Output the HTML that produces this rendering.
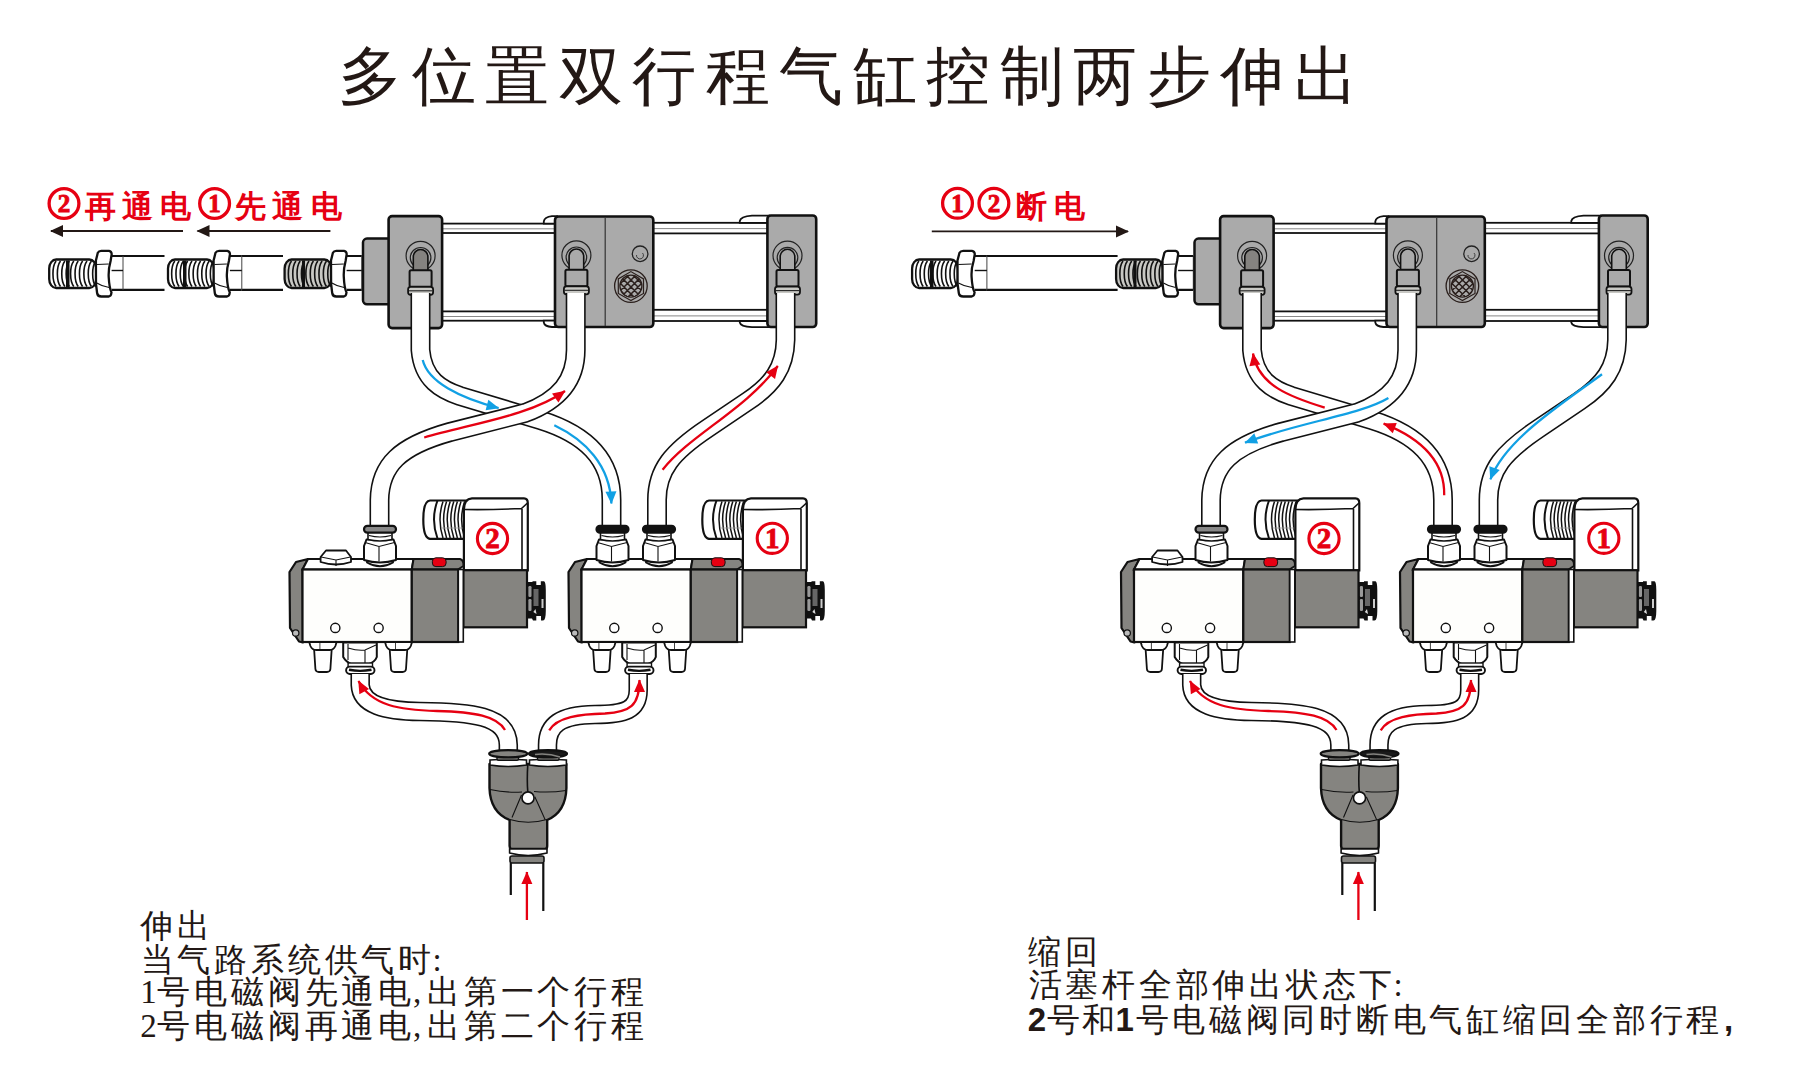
<!DOCTYPE html><html><head><meta charset="utf-8"><style>html,body{margin:0;padding:0;background:#fff;overflow:hidden}svg{display:block}</style></head><body>
<svg width="1820" height="1085" viewBox="0 0 1820 1085">
<defs>
<marker id="mr" markerUnits="userSpaceOnUse" markerWidth="16" markerHeight="14" refX="13" refY="7" orient="auto" viewBox="0 0 16 14"><path d="M1,1.5 L13.5,7 L1,12.5 Z" fill="#e60012"/></marker>
<marker id="mb" markerUnits="userSpaceOnUse" markerWidth="16" markerHeight="14" refX="13" refY="7" orient="auto" viewBox="0 0 16 14"><path d="M1,1.5 L13.5,7 L1,12.5 Z" fill="#11a0e4"/></marker>
<marker id="mk" markerUnits="userSpaceOnUse" markerWidth="16" markerHeight="14" refX="13" refY="7" orient="auto" viewBox="0 0 16 14"><path d="M1,1 L14,7 L1,13 Z" fill="#231815"/></marker>
<g id="machine"><rect x="346.6" y="256" width="15.2" height="33.8" fill="#fff"/>
<path d="M346.6,256 H361.8 M346.6,289.8 H361.8" stroke="#111" stroke-width="2.2"/>
<path d="M361.8,256 V289.8" stroke="#444" stroke-width="1"/>
<path d="M346.6,270.5 H361.8" stroke="#111" stroke-width="1.4"/>
<rect x="284.6" y="259.5" width="46.8" height="28.5" rx="7" ry="9" fill="#c8c8c4" stroke="#111" stroke-width="2.3"/>
<rect x="302" y="260.5" width="3" height="26.5" fill="#111"/>
<path d="M291.5,261 C287.3,266.5 287.3,281 291.5,286.5" fill="none" stroke="#111" stroke-width="1.6"/>
<path d="M295.9,261 C291.7,266.5 291.7,281 295.9,286.5" fill="none" stroke="#111" stroke-width="1.6"/>
<path d="M300.2,261 C296,266.5 296,281 300.2,286.5" fill="none" stroke="#111" stroke-width="1.6"/>
<path d="M304.6,261 C300.4,266.5 300.4,281 304.6,286.5" fill="none" stroke="#111" stroke-width="1.6"/>
<path d="M309,261 C304.8,266.5 304.8,281 309,286.5" fill="none" stroke="#111" stroke-width="1.6"/>
<path d="M313.4,261 C309.2,266.5 309.2,281 313.4,286.5" fill="none" stroke="#111" stroke-width="1.6"/>
<path d="M317.8,261 C313.6,266.5 313.6,281 317.8,286.5" fill="none" stroke="#111" stroke-width="1.6"/>
<path d="M322.1,261 C317.9,266.5 317.9,281 322.1,286.5" fill="none" stroke="#111" stroke-width="1.6"/>
<path d="M326.5,261 C322.3,266.5 322.3,281 326.5,286.5" fill="none" stroke="#111" stroke-width="1.6"/>
<path d="M330.9,261 C326.7,266.5 326.7,281 330.9,286.5" fill="none" stroke="#111" stroke-width="1.6"/>
<path d="M331,260.5 L332.9,252.8 Q333.9,250.8 336.3,250.8 H344.1 Q346.4,251.2 346.7,254 L345.6,261 Q343.4,269 343.8,277 Q344.3,288 346.5,292.5 Q346.1,296.3 343.7,296.5 H336.3 Q332.6,296.5 332.2,293 L331.1,284 Z" fill="#fff" stroke="#111" stroke-width="2.3" stroke-linejoin="round"/>
<path d="M331.9,264.5 L343.8,264" stroke="#111" stroke-width="1.2"/>
<path d="M331.9,283 Q337.3,286.5 344.1,287.5" fill="none" stroke="#111" stroke-width="1.1"/>
<rect x="363" y="238.6" width="30" height="65.7" rx="4" fill="#aaaaaa" stroke="#111" stroke-width="2.5"/>
<rect x="440" y="223.6" width="117" height="9.4" fill="#fff" stroke="#111" stroke-width="1.8"/><path d="M440,228.8 H557" stroke="#888" stroke-width="1"/>
<rect x="440" y="311.4" width="117" height="9.3" fill="#fff" stroke="#111" stroke-width="1.8"/><path d="M440,316.5 H557" stroke="#888" stroke-width="1"/>
<rect x="651" y="222.8" width="119" height="10.6" fill="#fff" stroke="#111" stroke-width="1.8"/><path d="M651,228.6 H770" stroke="#888" stroke-width="1"/>
<rect x="651" y="309.8" width="119" height="11.2" fill="#fff" stroke="#111" stroke-width="1.8"/><path d="M651,315.9 H770" stroke="#888" stroke-width="1"/>
<path d="M557,216.2 H552 Q544.5,217 543.8,221.5 V223.6 H557 Z" fill="#fff" stroke="#111" stroke-width="1.8"/>
<path d="M557,327 H552 Q544.5,326.5 543.8,322.5 V320.7 H557 Z" fill="#fff" stroke="#111" stroke-width="1.8"/>
<path d="M769,215.6 H752 Q740.5,216.5 739.8,221 V222.8 H769 Z" fill="#fff" stroke="#111" stroke-width="1.8"/>
<path d="M769,327.2 H752 Q740.5,326.5 739.8,322.5 V321 H769 Z" fill="#fff" stroke="#111" stroke-width="1.8"/>
<rect x="388.6" y="216.1" width="53.5" height="112" rx="3.5" fill="#aaaaaa" stroke="#111" stroke-width="2.6"/>
<rect x="555" y="216.5" width="98.3" height="110.5" rx="3.5" fill="#aaaaaa" stroke="#111" stroke-width="2.6"/>
<path d="M605.2,218 V326" stroke="#333" stroke-width="1.2"/>
<rect x="767.4" y="215.5" width="48.8" height="111.5" rx="3.5" fill="#aaaaaa" stroke="#111" stroke-width="2.6"/>
<circle cx="640.1" cy="253.8" r="7.8" fill="#aaaaaa" stroke="#222" stroke-width="1.3"/>
<path d="M636.5,255 a3.5,3.5 0 1 0 6,-2" fill="none" stroke="#333" stroke-width="0.9"/>
<circle cx="630.9" cy="286.1" r="16.3" fill="#aaaaaa" stroke="#2a1f1c" stroke-width="1.3"/>
<polygon points="630.9,300.6 618.3,293.4 618.3,278.9 630.9,271.6 643.5,278.9 643.5,293.4" fill="none" stroke="#2a1f1c" stroke-width="1.2"/>
<circle cx="630.9" cy="286.1" r="11" fill="#aaaaaa" stroke="#2a1f1c" stroke-width="1.3"/>
<clipPath id="gc"><circle cx="630.9" cy="286.1" r="11"/></clipPath>
<path d="M591,275 L615,299 M615,275 L591,299 M598,275 L622,299 M622,275 L598,299 M605,275 L629,299 M629,275 L605,299 M612,275 L636,299 M636,275 L612,299 M619,275 L643,299 M643,275 L619,299 M626,275 L650,299 M650,275 L626,299 M633,275 L657,299 M657,275 L633,299 M640,275 L664,299 M664,275 L640,299 M647,275 L671,299 M671,275 L647,299" stroke="#2a1f1c" stroke-width="1.5" clip-path="url(#gc)"/>
<circle cx="420.6" cy="255.8" r="14.5" fill="none" stroke="#222" stroke-width="1.2"/>
<circle cx="420.6" cy="257.8" r="10.3" fill="none" stroke="#222" stroke-width="1.2"/>
<path d="M413.3,270.8 V256.8 a7.3,7.3 0 0 1 14.6,0 V270.8 Z" fill="#858380" stroke="#111" stroke-width="1.6"/>
<rect x="409.6" y="270.3" width="22" height="16.5" rx="1.5" fill="#aaaaaa" stroke="#111" stroke-width="2"/>
<rect x="408.1" y="286.8" width="25" height="8" rx="2.5" fill="#c8c8c4" stroke="#111" stroke-width="1.8"/>
<path d="M408.6,290.8 H432.6" stroke="#222" stroke-width="1.1"/>
<circle cx="576.4" cy="255.3" r="14.5" fill="none" stroke="#222" stroke-width="1.2"/>
<circle cx="576.4" cy="257.3" r="10.3" fill="none" stroke="#222" stroke-width="1.2"/>
<path d="M569.1,270.3 V256.3 a7.3,7.3 0 0 1 14.6,0 V270.3 Z" fill="#aaaaaa" stroke="#111" stroke-width="1.6"/>
<rect x="565.4" y="269.8" width="22" height="16.5" rx="1.5" fill="#aaaaaa" stroke="#111" stroke-width="2"/>
<rect x="563.9" y="286.3" width="25" height="8" rx="2.5" fill="#c8c8c4" stroke="#111" stroke-width="1.8"/>
<path d="M564.4,290.3 H588.4" stroke="#222" stroke-width="1.1"/>
<circle cx="787.5" cy="255.6" r="14.5" fill="none" stroke="#222" stroke-width="1.2"/>
<circle cx="787.5" cy="257.6" r="10.3" fill="none" stroke="#222" stroke-width="1.2"/>
<path d="M780.2,270.6 V256.6 a7.3,7.3 0 0 1 14.6,0 V270.6 Z" fill="#aaaaaa" stroke="#111" stroke-width="1.6"/>
<rect x="776.5" y="270.1" width="22" height="16.5" rx="1.5" fill="#aaaaaa" stroke="#111" stroke-width="2"/>
<rect x="775" y="286.6" width="25" height="8" rx="2.5" fill="#c8c8c4" stroke="#111" stroke-width="1.8"/>
<path d="M775.5,290.6 H799.5" stroke="#222" stroke-width="1.1"/>
<path d="M420.5,293 V350 C423,380 442,390 460,396 L540,420 C585,434 611.5,458 611.5,500 V532" fill="none" stroke="#111" stroke-width="20"/><path d="M420.5,293 V350 C423,380 442,390 460,396 L540,420 C585,434 611.5,458 611.5,500 V532" fill="none" stroke="#fff" stroke-width="16.8"/>
<path d="M575.7,293 V350 C575.7,380 560,400 525,413 L450,432 C400,446 380,465 379.5,500 V532" fill="none" stroke="#111" stroke-width="20"/><path d="M575.7,293 V350 C575.7,380 560,400 525,413 L450,432 C400,446 380,465 379.5,500 V532" fill="none" stroke="#fff" stroke-width="16.8"/>
<path d="M785.5,293 V340 C785,368 772,385 748,401 L708,428 C672,452 657,470 657,500 V532" fill="none" stroke="#111" stroke-width="20"/><path d="M785.5,293 V340 C785,368 772,385 748,401 L708,428 C672,452 657,470 657,500 V532" fill="none" stroke="#fff" stroke-width="16.8"/>
<path d="M526,582 H532.5 V581.3 H536.3 V585 H540.8 V581.3 H544 Q545.8,582 545.8,590 V611 Q545.8,620.5 543,620.5 H541 V616 H536.3 V620.5 H533 L532,618.5 H526 Z" fill="#111"/>
<rect x="528.3" y="586" width="3.2" height="11" rx="1.2" fill="#999"/><rect x="528.3" y="599" width="3.2" height="12" rx="1.2" fill="#999"/><rect x="533.5" y="589" width="5" height="17" fill="#666"/><rect x="541.5" y="599" width="2" height="9" fill="#ccc"/><path d="M533.3,612 L535.5,609 L536.5,614 Z" fill="#ddd"/>
<path d="M430,500.5 H466 V538.9 H430 Q423.3,538 423.3,519.5 Q423.3,501 430,500.5 Z" fill="#fff" stroke="#111" stroke-width="2.2"/>
<path d="M437.5,500.5 Q430.5,519.5 437.5,538.5" fill="none" stroke="#111" stroke-width="2"/>
<path d="M443,501.5 Q437,519.5 443,538" fill="none" stroke="#111" stroke-width="1.5"/>
<path d="M446.6,501.5 Q440.6,519.5 446.6,538" fill="none" stroke="#111" stroke-width="1.5"/>
<path d="M450.2,501.5 Q444.2,519.5 450.2,538" fill="none" stroke="#111" stroke-width="1.5"/>
<path d="M453.8,501.5 Q447.8,519.5 453.8,538" fill="none" stroke="#111" stroke-width="1.5"/>
<path d="M457.4,501.5 Q451.4,519.5 457.4,538" fill="none" stroke="#111" stroke-width="1.5"/>
<path d="M461,501.5 Q455,519.5 461,538" fill="none" stroke="#111" stroke-width="1.5"/>
<path d="M464.6,501.5 Q458.6,519.5 464.6,538" fill="none" stroke="#111" stroke-width="1.5"/>
<path d="M441,528 H465" stroke="#999" stroke-width="0.8"/>
<path d="M463.9,570.5 V509.5 Q463.9,499 472,498.3 H524 Q527.8,498.5 527.8,503 V570.5 Z" fill="#fff" stroke="#111" stroke-width="2.2"/>
<path d="M464,509.5 Q490,510 521.5,508.5 L527.5,503 M522,509 V570" fill="none" stroke="#111" stroke-width="1.6"/>
<rect x="463.4" y="570.2" width="63.6" height="57.1" fill="#858480" stroke="#111" stroke-width="2.2"/>
<path d="M289.5,572 L296,562 L308,559 L302.5,569.5 L303,642.5 L299,641.5 L290,628 Z" fill="#858480" stroke="#111" stroke-width="2.2" stroke-linejoin="round"/>
<circle cx="295.7" cy="633" r="3.2" fill="#bbb" stroke="#111" stroke-width="1.2"/>
<path d="M302.5,569.5 L308,559 H413.5 L411.8,569.5 Z" fill="#fff" stroke="#111" stroke-width="2"/>
<rect x="302.5" y="569.5" width="109.3" height="72.5" fill="#fefefc" stroke="#111" stroke-width="2.2"/>
<path d="M411.8,569.5 L413.5,559 H460 Q464,560 463.4,566 L458,569.5 Z" fill="#858480" stroke="#111" stroke-width="2"/>
<rect x="411.8" y="569.5" width="46.5" height="72.5" fill="#858480" stroke="#111" stroke-width="2.2"/>
<rect x="458.3" y="569.5" width="5" height="72.5" fill="#fff" stroke="#111" stroke-width="1.6"/>
<rect x="432.4" y="557.8" width="13.7" height="8.8" rx="3.5" fill="#e60012" stroke="#111" stroke-width="1"/>
<circle cx="335.3" cy="627.9" r="4.6" fill="#fff" stroke="#111" stroke-width="1.4"/>
<circle cx="378.6" cy="627.9" r="4.6" fill="#fff" stroke="#111" stroke-width="1.4"/>
<path d="M314.1,649 L315.4,669 Q315.7,672 318.9,672 H326.9 Q330.1,672 330.4,669 L331.7,649 Z" fill="#fff" stroke="#111" stroke-width="1.8" stroke-linejoin="round"/>
<path d="M309.2,642 L310.4,646 Q312.2,650 316.2,650 H329.6 Q333.6,650 335.4,646 L336.6,642 Z" fill="#fff" stroke="#111" stroke-width="1.8" stroke-linejoin="round"/>
<path d="M319.9,643 V649" stroke="#111" stroke-width="0.8"/>
<path d="M389.7,649 L391,669 Q391.3,672 394.5,672 H402.5 Q405.7,672 406,669 L407.3,649 Z" fill="#fff" stroke="#111" stroke-width="1.8" stroke-linejoin="round"/>
<path d="M385,642 L386.2,646 Q388,650 392,650 H405 Q409,650 410.8,646 L412,642 Z" fill="#fff" stroke="#111" stroke-width="1.8" stroke-linejoin="round"/>
<path d="M395.5,643 V649" stroke="#111" stroke-width="0.8"/>
<path d="M343.2,642.5 V657 Q346,662 352,664.5 Q360,666 368,664.5 Q375,662 376.8,657 V642.5 Z" fill="#fff" stroke="#111" stroke-width="2" stroke-linejoin="round"/>
<path d="M348,644 V660 M348,648 Q358,651 365,650 L376,645 M365,650 V663" fill="none" stroke="#111" stroke-width="1.1"/>
<rect x="348.1" y="663" width="24.4" height="4.5" fill="#fff" stroke="#111" stroke-width="1.4"/>
<rect x="346.1" y="666.6" width="28.4" height="7.4" rx="3.7" fill="#fff" stroke="#111" stroke-width="1.9"/>
<path d="M349,669.8 Q360,672 371.5,669.8" fill="none" stroke="#111" stroke-width="2.4"/>
<path d="M367,559 V562.5 Q380,570 393,562.5 V559 Z" fill="#fff" stroke="#111" stroke-width="1.8"/>
<path d="M364,560 V546 L366.5,539.5 H393.5 L396,546 V560 Q380,565 364,560 Z" fill="#fff" stroke="#111" stroke-width="2" stroke-linejoin="round"/>
<path d="M365,542.5 L379,546.5 L394.5,542.5 M379,546.5 V561.5" fill="none" stroke="#111" stroke-width="1.1"/>
<path d="M368,532 V539.5 Q380,542.5 392,539.5 V532 Z" fill="#fff" stroke="#111" stroke-width="1.6"/>
<path d="M369,535.5 Q380,538.5 391,535.5" fill="none" stroke="#111" stroke-width="1.1"/>
<rect x="364" y="525.8" width="32" height="6.8" rx="3.4" fill="#888" stroke="#111" stroke-width="2.2"/>
<path d="M320.6,557 L326,550.5 H346 L351,557 V562 Q336,567 320.6,562 Z" fill="#fff" stroke="#111" stroke-width="1.8" stroke-linejoin="round"/>
<path d="M321,557 L336,560 L350.5,557 M336,560 V566" fill="none" stroke="#111" stroke-width="1.1"/>
<path d="M805,582 H811.5 V581.3 H815.3 V585 H819.8 V581.3 H823 Q824.8,582 824.8,590 V611 Q824.8,620.5 822,620.5 H820 V616 H815.3 V620.5 H812 L811,618.5 H805 Z" fill="#111"/>
<rect x="807.3" y="586" width="3.2" height="11" rx="1.2" fill="#999"/><rect x="807.3" y="599" width="3.2" height="12" rx="1.2" fill="#999"/><rect x="812.5" y="589" width="5" height="17" fill="#666"/><rect x="820.5" y="599" width="2" height="9" fill="#ccc"/><path d="M812.3,612 L814.5,609 L815.5,614 Z" fill="#ddd"/>
<path d="M709,500.5 H745 V538.9 H709 Q702.3,538 702.3,519.5 Q702.3,501 709,500.5 Z" fill="#fff" stroke="#111" stroke-width="2.2"/>
<path d="M716.5,500.5 Q709.5,519.5 716.5,538.5" fill="none" stroke="#111" stroke-width="2"/>
<path d="M722,501.5 Q716,519.5 722,538" fill="none" stroke="#111" stroke-width="1.5"/>
<path d="M725.6,501.5 Q719.6,519.5 725.6,538" fill="none" stroke="#111" stroke-width="1.5"/>
<path d="M729.2,501.5 Q723.2,519.5 729.2,538" fill="none" stroke="#111" stroke-width="1.5"/>
<path d="M732.8,501.5 Q726.8,519.5 732.8,538" fill="none" stroke="#111" stroke-width="1.5"/>
<path d="M736.4,501.5 Q730.4,519.5 736.4,538" fill="none" stroke="#111" stroke-width="1.5"/>
<path d="M740,501.5 Q734,519.5 740,538" fill="none" stroke="#111" stroke-width="1.5"/>
<path d="M743.6,501.5 Q737.6,519.5 743.6,538" fill="none" stroke="#111" stroke-width="1.5"/>
<path d="M720,528 H744" stroke="#999" stroke-width="0.8"/>
<path d="M742.9,570.5 V509.5 Q742.9,499 751,498.3 H803 Q806.8,498.5 806.8,503 V570.5 Z" fill="#fff" stroke="#111" stroke-width="2.2"/>
<path d="M743,509.5 Q769,510 800.5,508.5 L806.5,503 M801,509 V570" fill="none" stroke="#111" stroke-width="1.6"/>
<rect x="742.4" y="570.2" width="63.6" height="57.1" fill="#858480" stroke="#111" stroke-width="2.2"/>
<path d="M568.5,572 L575,562 L587,559 L581.5,569.5 L582,642.5 L578,641.5 L569,628 Z" fill="#858480" stroke="#111" stroke-width="2.2" stroke-linejoin="round"/>
<circle cx="574.7" cy="633" r="3.2" fill="#bbb" stroke="#111" stroke-width="1.2"/>
<path d="M581.5,569.5 L587,559 H692.5 L690.8,569.5 Z" fill="#fff" stroke="#111" stroke-width="2"/>
<rect x="581.5" y="569.5" width="109.3" height="72.5" fill="#fefefc" stroke="#111" stroke-width="2.2"/>
<path d="M690.8,569.5 L692.5,559 H739 Q743,560 742.4,566 L737,569.5 Z" fill="#858480" stroke="#111" stroke-width="2"/>
<rect x="690.8" y="569.5" width="46.5" height="72.5" fill="#858480" stroke="#111" stroke-width="2.2"/>
<rect x="737.3" y="569.5" width="5" height="72.5" fill="#fff" stroke="#111" stroke-width="1.6"/>
<rect x="711.4" y="557.8" width="13.7" height="8.8" rx="3.5" fill="#e60012" stroke="#111" stroke-width="1"/>
<circle cx="614.3" cy="627.9" r="4.6" fill="#fff" stroke="#111" stroke-width="1.4"/>
<circle cx="657.6" cy="627.9" r="4.6" fill="#fff" stroke="#111" stroke-width="1.4"/>
<path d="M593.1,649 L594.4,669 Q594.7,672 597.9,672 H605.9 Q609.1,672 609.4,669 L610.7,649 Z" fill="#fff" stroke="#111" stroke-width="1.8" stroke-linejoin="round"/>
<path d="M588.2,642 L589.4,646 Q591.2,650 595.2,650 H608.6 Q612.6,650 614.4,646 L615.6,642 Z" fill="#fff" stroke="#111" stroke-width="1.8" stroke-linejoin="round"/>
<path d="M598.9,643 V649" stroke="#111" stroke-width="0.8"/>
<path d="M668.7,649 L670,669 Q670.3,672 673.5,672 H681.5 Q684.7,672 685,669 L686.3,649 Z" fill="#fff" stroke="#111" stroke-width="1.8" stroke-linejoin="round"/>
<path d="M664,642 L665.2,646 Q667,650 671,650 H684 Q688,650 689.8,646 L691,642 Z" fill="#fff" stroke="#111" stroke-width="1.8" stroke-linejoin="round"/>
<path d="M674.5,643 V649" stroke="#111" stroke-width="0.8"/>
<path d="M622.2,642.5 V657 Q625,662 631,664.5 Q639,666 647,664.5 Q654,662 655.8,657 V642.5 Z" fill="#fff" stroke="#111" stroke-width="2" stroke-linejoin="round"/>
<path d="M627,644 V660 M627,648 Q637,651 644,650 L655,645 M644,650 V663" fill="none" stroke="#111" stroke-width="1.1"/>
<rect x="627.1" y="663" width="24.4" height="4.5" fill="#fff" stroke="#111" stroke-width="1.4"/>
<rect x="625.1" y="666.6" width="28.4" height="7.4" rx="3.7" fill="#fff" stroke="#111" stroke-width="1.9"/>
<path d="M628,669.8 Q639,672 650.5,669.8" fill="none" stroke="#111" stroke-width="2.4"/>
<path d="M646,559 V562.5 Q659,570 672,562.5 V559 Z" fill="#fff" stroke="#111" stroke-width="1.8"/>
<path d="M643,560 V546 L645.5,539.5 H672.5 L675,546 V560 Q659,565 643,560 Z" fill="#fff" stroke="#111" stroke-width="2" stroke-linejoin="round"/>
<path d="M644,542.5 L658,546.5 L673.5,542.5 M658,546.5 V561.5" fill="none" stroke="#111" stroke-width="1.1"/>
<path d="M647,532 V539.5 Q659,542.5 671,539.5 V532 Z" fill="#fff" stroke="#111" stroke-width="1.6"/>
<path d="M648,535.5 Q659,538.5 670,535.5" fill="none" stroke="#111" stroke-width="1.1"/>
<rect x="643" y="525.8" width="32" height="6.8" rx="3.4" fill="#111" stroke="#111" stroke-width="2.2"/>
<path d="M599.5,559 V562.5 Q612.5,570 625.5,562.5 V559 Z" fill="#fff" stroke="#111" stroke-width="1.8"/>
<path d="M596.5,560 V546 L599,539.5 H626 L628.5,546 V560 Q612.5,565 596.5,560 Z" fill="#fff" stroke="#111" stroke-width="2" stroke-linejoin="round"/>
<path d="M597.5,542.5 L611.5,546.5 L627,542.5 M611.5,546.5 V561.5" fill="none" stroke="#111" stroke-width="1.1"/>
<path d="M600.5,532 V539.5 Q612.5,542.5 624.5,539.5 V532 Z" fill="#fff" stroke="#111" stroke-width="1.6"/>
<path d="M601.5,535.5 Q612.5,538.5 623.5,535.5" fill="none" stroke="#111" stroke-width="1.1"/>
<rect x="596.5" y="525.8" width="32" height="6.8" rx="3.4" fill="#111" stroke="#111" stroke-width="2.2"/>
<path d="M360.2,674 V685 C361,705 385,711 420,711.5 C470,712 508,715 508.3,745 V756" fill="none" stroke="#111" stroke-width="19.5"/><path d="M360.2,674 V685 C361,705 385,711 420,711.5 C470,712 508,715 508.3,745 V756" fill="none" stroke="#fff" stroke-width="16.3"/>
<path d="M638.2,674 V690 C638.2,710 625,714.5 595,714.5 C560,715 547.5,725 547.5,745 V756" fill="none" stroke="#111" stroke-width="19.5"/><path d="M638.2,674 V690 C638.2,710 625,714.5 595,714.5 C560,715 547.5,725 547.5,745 V756" fill="none" stroke="#fff" stroke-width="16.3"/>
<path d="M505,730 C497,716 475,712 437,711 C400,710 372,706 358.5,681" fill="none" stroke="#e60012" stroke-width="2.3" marker-end="url(#mr)"/>
<path d="M549.2,730.3 C557,717 580,714 605,713.5 C630,712 639.5,706 639.5,680" fill="none" stroke="#e60012" stroke-width="2.3" marker-end="url(#mr)"/>
<path d="M489.5,764 V788 C490,805 497,815 509.6,820 V846 Q509.7,849 512,849 H545 Q547.2,849 547.2,846 V820 C559,815 566,805 566.4,788 V764 Z" fill="#858480" stroke="#111" stroke-width="2.4" stroke-linejoin="round"/>
<path d="M527.8,764 Q526.8,780 527.8,792" fill="none" stroke="#111" stroke-width="1.6"/>
<path d="M490,789.5 Q506,793 522,792 M534,791.5 Q550,793 566,790.5 M521.5,795 Q516,808 512,817.5 M534.8,796.7 Q540,808 545,819.4 M509.8,819.5 Q528,825 547,819.5" fill="none" stroke="#111" stroke-width="1.1"/>
<path d="M490,760 Q508,758.5 526.5,760 V765 Q508,768 490,765 Z" fill="#fff" stroke="#111" stroke-width="1.6"/>
<path d="M529.5,760 Q548,758.5 566.4,760 V765 Q548,768 529.5,765 Z" fill="#fff" stroke="#111" stroke-width="1.6"/>
<circle cx="528" cy="797.9" r="6" fill="#fff" stroke="#111" stroke-width="1.6"/>
<path d="M509.6,849 V853 Q528,858 547,853 V849 Z" fill="#fff" stroke="#111" stroke-width="1.6"/>
<rect x="510" y="856" width="34" height="7" rx="2" fill="#858480" stroke="#111" stroke-width="1.6"/>
<rect x="497" y="755.5" width="21.5" height="4.8" rx="1.5" fill="#858480" stroke="#111" stroke-width="1.4"/>
<rect x="537.5" y="755.5" width="21.5" height="4.8" rx="1.5" fill="#858480" stroke="#111" stroke-width="1.4"/>
<ellipse cx="508.2" cy="753.8" rx="19" ry="3.6" fill="#858480" stroke="#111" stroke-width="2.2"/>
<ellipse cx="548" cy="753.8" rx="19" ry="3.6" fill="#1a1a1a" stroke="#111" stroke-width="2.2"/>
<path d="M535,754.5 Q548,753 560,757" fill="none" stroke="#858480" stroke-width="1.5"/>
<path d="M510.8,863 V895 M543.3,863 V911" stroke="#111" stroke-width="2.2"/>
<path d="M526.9,920 V872" fill="none" stroke="#e60012" stroke-width="2.3" marker-end="url(#mr)"/></g>
</defs>
<use href="#machine"/>
<use href="#machine" x="831.5"/>
<path d="M123,256 H164.5 M123,289.8 H164.5" stroke="#111" stroke-width="2.2"/>
<rect x="111.6" y="256" width="11.4" height="33.8" fill="#fff"/>
<path d="M111.6,256 H123 M111.6,289.8 H123" stroke="#111" stroke-width="2.2"/>
<path d="M123,256 V289.8" stroke="#444" stroke-width="1"/>
<path d="M111.6,270.5 H123" stroke="#111" stroke-width="1.4"/>
<rect x="49.2" y="259.5" width="47.1" height="28.5" rx="7" ry="9" fill="#fff" stroke="#111" stroke-width="2.3"/>
<rect x="66" y="260.5" width="3.5" height="26.5" fill="#111"/>
<path d="M56.1,261 C51.9,266.5 51.9,281 56.1,286.5" fill="none" stroke="#111" stroke-width="1.6"/>
<path d="M60.5,261 C56.3,266.5 56.3,281 60.5,286.5" fill="none" stroke="#111" stroke-width="1.6"/>
<path d="M64.9,261 C60.7,266.5 60.7,281 64.9,286.5" fill="none" stroke="#111" stroke-width="1.6"/>
<path d="M69.3,261 C65.1,266.5 65.1,281 69.3,286.5" fill="none" stroke="#111" stroke-width="1.6"/>
<path d="M73.8,261 C69.5,266.5 69.5,281 73.8,286.5" fill="none" stroke="#111" stroke-width="1.6"/>
<path d="M78.2,261 C74,266.5 74,281 78.2,286.5" fill="none" stroke="#111" stroke-width="1.6"/>
<path d="M82.6,261 C78.4,266.5 78.4,281 82.6,286.5" fill="none" stroke="#111" stroke-width="1.6"/>
<path d="M87,261 C82.8,266.5 82.8,281 87,286.5" fill="none" stroke="#111" stroke-width="1.6"/>
<path d="M91.4,261 C87.2,266.5 87.2,281 91.4,286.5" fill="none" stroke="#111" stroke-width="1.6"/>
<path d="M95.8,261 C91.6,266.5 91.6,281 95.8,286.5" fill="none" stroke="#111" stroke-width="1.6"/>
<path d="M95.9,260.5 L97.8,252.8 Q98.8,250.8 101.2,250.8 H109.1 Q111.4,251.2 111.7,254 L110.6,261 Q108.3,269 108.7,277 Q109.3,288 111.5,292.5 Q111.1,296.3 108.6,296.5 H101.2 Q97.5,296.5 97.1,293 L96,284 Z" fill="#fff" stroke="#111" stroke-width="2.3" stroke-linejoin="round"/>
<path d="M96.8,264.5 L108.7,264" stroke="#111" stroke-width="1.2"/>
<path d="M96.8,283 Q102.2,286.5 109.1,287.5" fill="none" stroke="#111" stroke-width="1.1"/>
<path d="M241.8,256 H283 M241.8,289.8 H283" stroke="#111" stroke-width="2.2"/>
<rect x="229.9" y="256" width="11.9" height="33.8" fill="#fff"/>
<path d="M229.9,256 H241.8 M229.9,289.8 H241.8" stroke="#111" stroke-width="2.2"/>
<path d="M241.8,256 V289.8" stroke="#444" stroke-width="1"/>
<path d="M229.9,270.5 H241.8" stroke="#111" stroke-width="1.4"/>
<rect x="168" y="259.5" width="46" height="28.5" rx="7" ry="9" fill="#fff" stroke="#111" stroke-width="2.3"/>
<rect x="183" y="260.5" width="3.5" height="26.5" fill="#111"/>
<path d="M174.8,261 C170.6,266.5 170.6,281 174.8,286.5" fill="none" stroke="#111" stroke-width="1.6"/>
<path d="M179.1,261 C174.9,266.5 174.9,281 179.1,286.5" fill="none" stroke="#111" stroke-width="1.6"/>
<path d="M183.4,261 C179.2,266.5 179.2,281 183.4,286.5" fill="none" stroke="#111" stroke-width="1.6"/>
<path d="M187.7,261 C183.5,266.5 183.5,281 187.7,286.5" fill="none" stroke="#111" stroke-width="1.6"/>
<path d="M192,261 C187.8,266.5 187.8,281 192,286.5" fill="none" stroke="#111" stroke-width="1.6"/>
<path d="M196.3,261 C192.1,266.5 192.1,281 196.3,286.5" fill="none" stroke="#111" stroke-width="1.6"/>
<path d="M200.6,261 C196.4,266.5 196.4,281 200.6,286.5" fill="none" stroke="#111" stroke-width="1.6"/>
<path d="M204.9,261 C200.7,266.5 200.7,281 204.9,286.5" fill="none" stroke="#111" stroke-width="1.6"/>
<path d="M209.2,261 C205,266.5 205,281 209.2,286.5" fill="none" stroke="#111" stroke-width="1.6"/>
<path d="M213.5,261 C209.3,266.5 209.3,281 213.5,286.5" fill="none" stroke="#111" stroke-width="1.6"/>
<path d="M213.6,260.5 L215.5,252.8 Q216.6,250.8 219.1,250.8 H227.3 Q229.7,251.2 230,254 L228.9,261 Q226.5,269 226.9,277 Q227.5,288 229.8,292.5 Q229.4,296.3 226.8,296.5 H219.1 Q215.2,296.5 214.8,293 L213.7,284 Z" fill="#fff" stroke="#111" stroke-width="2.3" stroke-linejoin="round"/>
<path d="M214.5,264.5 L226.9,264" stroke="#111" stroke-width="1.2"/>
<path d="M214.5,283 Q220.2,286.5 227.3,287.5" fill="none" stroke="#111" stroke-width="1.1"/>
<path d="M422.7,360 C428,382 460,398 498.6,408" fill="none" stroke="#11a0e4" stroke-width="2.3" marker-end="url(#mb)"/>
<path d="M554.3,425.3 C585,440 610,465 611.4,503.5" fill="none" stroke="#11a0e4" stroke-width="2.3" marker-end="url(#mb)"/>
<path d="M424.2,437.5 C470,424 530,416 565,391" fill="none" stroke="#e60012" stroke-width="2.3" marker-end="url(#mr)"/>
<path d="M662.6,469.7 C690,435 745,410 777.8,366" fill="none" stroke="#e60012" stroke-width="2.3" marker-end="url(#mr)"/>
<path d="M183,231 H51" stroke="#231815" stroke-width="1.9" marker-end="url(#mk)"/>
<path d="M330.4,231 H197.5" stroke="#231815" stroke-width="1.9" marker-end="url(#mk)"/>
<path d="M986.9,256 H1117.6 M986.9,289.8 H1117.6" stroke="#111" stroke-width="2.2"/>
<rect x="974.7" y="256" width="12.2" height="33.8" fill="#fff"/>
<path d="M974.7,256 H986.9 M974.7,289.8 H986.9" stroke="#111" stroke-width="2.2"/>
<path d="M986.9,256 V289.8" stroke="#444" stroke-width="1"/>
<path d="M974.7,270.5 H986.9" stroke="#111" stroke-width="1.4"/>
<rect x="912.1" y="259.5" width="45.8" height="28.5" rx="7" ry="9" fill="#fff" stroke="#111" stroke-width="2.3"/>
<rect x="930" y="260.5" width="3.5" height="26.5" fill="#111"/>
<path d="M918.9,261 C914.7,266.5 914.7,281 918.9,286.5" fill="none" stroke="#111" stroke-width="1.6"/>
<path d="M923.2,261 C919,266.5 919,281 923.2,286.5" fill="none" stroke="#111" stroke-width="1.6"/>
<path d="M927.4,261 C923.2,266.5 923.2,281 927.4,286.5" fill="none" stroke="#111" stroke-width="1.6"/>
<path d="M931.7,261 C927.5,266.5 927.5,281 931.7,286.5" fill="none" stroke="#111" stroke-width="1.6"/>
<path d="M936,261 C931.8,266.5 931.8,281 936,286.5" fill="none" stroke="#111" stroke-width="1.6"/>
<path d="M940.3,261 C936.1,266.5 936.1,281 940.3,286.5" fill="none" stroke="#111" stroke-width="1.6"/>
<path d="M944.6,261 C940.4,266.5 940.4,281 944.6,286.5" fill="none" stroke="#111" stroke-width="1.6"/>
<path d="M948.8,261 C944.6,266.5 944.6,281 948.8,286.5" fill="none" stroke="#111" stroke-width="1.6"/>
<path d="M953.1,261 C948.9,266.5 948.9,281 953.1,286.5" fill="none" stroke="#111" stroke-width="1.6"/>
<path d="M957.4,261 C953.2,266.5 953.2,281 957.4,286.5" fill="none" stroke="#111" stroke-width="1.6"/>
<path d="M957.5,260.5 L959.5,252.8 Q960.6,250.8 963.3,250.8 H972 Q974.5,251.2 974.8,254 L973.6,261 Q971.1,269 971.6,277 Q972.2,288 974.6,292.5 Q974.2,296.3 971.4,296.5 H963.3 Q959.2,296.5 958.8,293 L957.6,284 Z" fill="#fff" stroke="#111" stroke-width="2.3" stroke-linejoin="round"/>
<path d="M958.4,264.5 L971.6,264" stroke="#111" stroke-width="1.2"/>
<path d="M958.4,283 Q964.4,286.5 972,287.5" fill="none" stroke="#111" stroke-width="1.1"/>
<path d="M1324.7,407.6 C1290,397 1258,385 1253,353.5" fill="none" stroke="#e60012" stroke-width="2.3" marker-end="url(#mr)"/>
<path d="M1444.2,495.3 C1445,460 1420,438 1383.6,423.6" fill="none" stroke="#e60012" stroke-width="2.3" marker-end="url(#mr)"/>
<path d="M1388.4,398 C1360,415 1300,422 1245,442.7" fill="none" stroke="#11a0e4" stroke-width="2.3" marker-end="url(#mb)"/>
<path d="M1602,374.2 C1560,405 1505,440 1490.4,479.3" fill="none" stroke="#11a0e4" stroke-width="2.3" marker-end="url(#mb)"/>
<path d="M931.8,231.4 H1128" stroke="#231815" stroke-width="1.9" marker-end="url(#mk)"/>
<circle cx="492.5" cy="538.5" r="15.1" fill="none" stroke="#e60012" stroke-width="3.1"/><text x="492.5" y="548.4" text-anchor="middle" font-family="Liberation Serif" font-weight="bold" font-size="29" fill="#e60012" stroke="#e60012" stroke-width="0.9">2</text>
<circle cx="772.3" cy="538.3" r="15.1" fill="none" stroke="#e60012" stroke-width="3.1"/><text x="772.3" y="548.2" text-anchor="middle" font-family="Liberation Serif" font-weight="bold" font-size="29" fill="#e60012" stroke="#e60012" stroke-width="0.9">1</text>
<circle cx="1324" cy="538.5" r="15.1" fill="none" stroke="#e60012" stroke-width="3.1"/><text x="1324" y="548.4" text-anchor="middle" font-family="Liberation Serif" font-weight="bold" font-size="29" fill="#e60012" stroke="#e60012" stroke-width="0.9">2</text>
<circle cx="1603.8" cy="538.3" r="15.1" fill="none" stroke="#e60012" stroke-width="3.1"/><text x="1603.8" y="548.2" text-anchor="middle" font-family="Liberation Serif" font-weight="bold" font-size="29" fill="#e60012" stroke="#e60012" stroke-width="0.9">1</text>
<circle cx="64" cy="203.5" r="14.9" fill="none" stroke="#e60012" stroke-width="3.3"/><text x="64" y="212" text-anchor="middle" font-family="Liberation Serif" font-weight="bold" font-size="25" fill="#e60012" stroke="#e60012" stroke-width="0.9">2</text>
<circle cx="214.6" cy="203.5" r="14.9" fill="none" stroke="#e60012" stroke-width="3.3"/><text x="214.6" y="212" text-anchor="middle" font-family="Liberation Serif" font-weight="bold" font-size="25" fill="#e60012" stroke="#e60012" stroke-width="0.9">1</text>
<text x="100.4" y="217" text-anchor="middle" font-family="Liberation Sans" font-weight="bold" font-size="31" fill="#e60012">再</text>
<text x="137.1" y="217" text-anchor="middle" font-family="Liberation Sans" font-weight="bold" font-size="31" fill="#e60012">通</text>
<text x="175.4" y="217" text-anchor="middle" font-family="Liberation Sans" font-weight="bold" font-size="31" fill="#e60012">电</text>
<text x="250.8" y="217" text-anchor="middle" font-family="Liberation Sans" font-weight="bold" font-size="31" fill="#e60012">先</text>
<text x="287.7" y="217" text-anchor="middle" font-family="Liberation Sans" font-weight="bold" font-size="31" fill="#e60012">通</text>
<text x="326.1" y="217" text-anchor="middle" font-family="Liberation Sans" font-weight="bold" font-size="31" fill="#e60012">电</text>
<circle cx="957.5" cy="203.3" r="14.9" fill="none" stroke="#e60012" stroke-width="3.3"/><text x="957.5" y="211.8" text-anchor="middle" font-family="Liberation Serif" font-weight="bold" font-size="25" fill="#e60012" stroke="#e60012" stroke-width="0.9">1</text>
<circle cx="993.9" cy="203.3" r="14.9" fill="none" stroke="#e60012" stroke-width="3.3"/><text x="993.9" y="211.8" text-anchor="middle" font-family="Liberation Serif" font-weight="bold" font-size="25" fill="#e60012" stroke="#e60012" stroke-width="0.9">2</text>
<text x="1031.2" y="217" text-anchor="middle" font-family="Liberation Sans" font-weight="bold" font-size="31" fill="#e60012">断</text>
<text x="1069" y="217" text-anchor="middle" font-family="Liberation Sans" font-weight="bold" font-size="31" fill="#e60012">电</text>
<text x="370" y="97.5" text-anchor="middle" font-family="Liberation Sans" font-size="64" fill="#231815">多</text>
<text x="443.5" y="97.5" text-anchor="middle" font-family="Liberation Sans" font-size="64" fill="#231815">位</text>
<text x="517" y="97.5" text-anchor="middle" font-family="Liberation Sans" font-size="64" fill="#231815">置</text>
<text x="590.5" y="97.5" text-anchor="middle" font-family="Liberation Sans" font-size="64" fill="#231815">双</text>
<text x="664" y="97.5" text-anchor="middle" font-family="Liberation Sans" font-size="64" fill="#231815">行</text>
<text x="737.5" y="97.5" text-anchor="middle" font-family="Liberation Sans" font-size="64" fill="#231815">程</text>
<text x="811" y="97.5" text-anchor="middle" font-family="Liberation Sans" font-size="64" fill="#231815">气</text>
<text x="884.5" y="97.5" text-anchor="middle" font-family="Liberation Sans" font-size="64" fill="#231815">缸</text>
<text x="958" y="97.5" text-anchor="middle" font-family="Liberation Sans" font-size="64" fill="#231815">控</text>
<text x="1031.5" y="97.5" text-anchor="middle" font-family="Liberation Sans" font-size="64" fill="#231815">制</text>
<text x="1105" y="97.5" text-anchor="middle" font-family="Liberation Sans" font-size="64" fill="#231815">两</text>
<text x="1178.5" y="97.5" text-anchor="middle" font-family="Liberation Sans" font-size="64" fill="#231815">步</text>
<text x="1252" y="97.5" text-anchor="middle" font-family="Liberation Sans" font-size="64" fill="#231815">伸</text>
<text x="1325.5" y="97.5" text-anchor="middle" font-family="Liberation Sans" font-size="64" fill="#231815">出</text>
<text x="156.7" y="937" text-anchor="middle" font-family="Liberation Sans" font-size="33" fill="#231815">伸</text>
<text x="193.8" y="937" text-anchor="middle" font-family="Liberation Sans" font-size="33" fill="#231815">出</text>
<text x="157.1" y="970.5" text-anchor="middle" font-family="Liberation Sans" font-size="33" fill="#231815">当</text>
<text x="193.9" y="970.5" text-anchor="middle" font-family="Liberation Sans" font-size="33" fill="#231815">气</text>
<text x="230.7" y="970.5" text-anchor="middle" font-family="Liberation Sans" font-size="33" fill="#231815">路</text>
<text x="267.5" y="970.5" text-anchor="middle" font-family="Liberation Sans" font-size="33" fill="#231815">系</text>
<text x="304.3" y="970.5" text-anchor="middle" font-family="Liberation Sans" font-size="33" fill="#231815">统</text>
<text x="341.1" y="970.5" text-anchor="middle" font-family="Liberation Sans" font-size="33" fill="#231815">供</text>
<text x="377.9" y="970.5" text-anchor="middle" font-family="Liberation Sans" font-size="33" fill="#231815">气</text>
<text x="414.7" y="970.5" text-anchor="middle" font-family="Liberation Sans" font-size="33" fill="#231815">时</text>
<text x="437" y="970.5" text-anchor="middle" font-family="Liberation Serif" font-size="33" fill="#231815">:</text>
<text x="148.5" y="1003" text-anchor="middle" font-family="Liberation Serif" font-size="33" fill="#231815">1</text>
<text x="173.8" y="1003" text-anchor="middle" font-family="Liberation Sans" font-size="33" fill="#231815">号</text>
<text x="210.6" y="1003" text-anchor="middle" font-family="Liberation Sans" font-size="33" fill="#231815">电</text>
<text x="247.4" y="1003" text-anchor="middle" font-family="Liberation Sans" font-size="33" fill="#231815">磁</text>
<text x="284.2" y="1003" text-anchor="middle" font-family="Liberation Sans" font-size="33" fill="#231815">阀</text>
<text x="321" y="1003" text-anchor="middle" font-family="Liberation Sans" font-size="33" fill="#231815">先</text>
<text x="357.8" y="1003" text-anchor="middle" font-family="Liberation Sans" font-size="33" fill="#231815">通</text>
<text x="394.6" y="1003" text-anchor="middle" font-family="Liberation Sans" font-size="33" fill="#231815">电</text>
<text x="417" y="1003" text-anchor="middle" font-family="Liberation Serif" font-size="33" fill="#231815">,</text>
<text x="443.5" y="1003" text-anchor="middle" font-family="Liberation Sans" font-size="33" fill="#231815">出</text>
<text x="480.3" y="1003" text-anchor="middle" font-family="Liberation Sans" font-size="33" fill="#231815">第</text>
<text x="517.1" y="1003" text-anchor="middle" font-family="Liberation Sans" font-size="33" fill="#231815">一</text>
<text x="553.9" y="1003" text-anchor="middle" font-family="Liberation Sans" font-size="33" fill="#231815">个</text>
<text x="590.7" y="1003" text-anchor="middle" font-family="Liberation Sans" font-size="33" fill="#231815">行</text>
<text x="627.5" y="1003" text-anchor="middle" font-family="Liberation Sans" font-size="33" fill="#231815">程</text>
<text x="148.5" y="1037" text-anchor="middle" font-family="Liberation Serif" font-size="33" fill="#231815">2</text>
<text x="173.8" y="1037" text-anchor="middle" font-family="Liberation Sans" font-size="33" fill="#231815">号</text>
<text x="210.6" y="1037" text-anchor="middle" font-family="Liberation Sans" font-size="33" fill="#231815">电</text>
<text x="247.4" y="1037" text-anchor="middle" font-family="Liberation Sans" font-size="33" fill="#231815">磁</text>
<text x="284.2" y="1037" text-anchor="middle" font-family="Liberation Sans" font-size="33" fill="#231815">阀</text>
<text x="321" y="1037" text-anchor="middle" font-family="Liberation Sans" font-size="33" fill="#231815">再</text>
<text x="357.8" y="1037" text-anchor="middle" font-family="Liberation Sans" font-size="33" fill="#231815">通</text>
<text x="394.6" y="1037" text-anchor="middle" font-family="Liberation Sans" font-size="33" fill="#231815">电</text>
<text x="417" y="1037" text-anchor="middle" font-family="Liberation Serif" font-size="33" fill="#231815">,</text>
<text x="443.5" y="1037" text-anchor="middle" font-family="Liberation Sans" font-size="33" fill="#231815">出</text>
<text x="480.3" y="1037" text-anchor="middle" font-family="Liberation Sans" font-size="33" fill="#231815">第</text>
<text x="517.1" y="1037" text-anchor="middle" font-family="Liberation Sans" font-size="33" fill="#231815">二</text>
<text x="553.9" y="1037" text-anchor="middle" font-family="Liberation Sans" font-size="33" fill="#231815">个</text>
<text x="590.7" y="1037" text-anchor="middle" font-family="Liberation Sans" font-size="33" fill="#231815">行</text>
<text x="627.5" y="1037" text-anchor="middle" font-family="Liberation Sans" font-size="33" fill="#231815">程</text>
<text x="1044.2" y="962.5" text-anchor="middle" font-family="Liberation Sans" font-size="33" fill="#231815">缩</text>
<text x="1081.5" y="962.5" text-anchor="middle" font-family="Liberation Sans" font-size="33" fill="#231815">回</text>
<text x="1045" y="996" text-anchor="middle" font-family="Liberation Sans" font-size="33" fill="#231815">活</text>
<text x="1081.8" y="996" text-anchor="middle" font-family="Liberation Sans" font-size="33" fill="#231815">塞</text>
<text x="1118.5" y="996" text-anchor="middle" font-family="Liberation Sans" font-size="33" fill="#231815">杆</text>
<text x="1155.2" y="996" text-anchor="middle" font-family="Liberation Sans" font-size="33" fill="#231815">全</text>
<text x="1192" y="996" text-anchor="middle" font-family="Liberation Sans" font-size="33" fill="#231815">部</text>
<text x="1228.8" y="996" text-anchor="middle" font-family="Liberation Sans" font-size="33" fill="#231815">伸</text>
<text x="1265.5" y="996" text-anchor="middle" font-family="Liberation Sans" font-size="33" fill="#231815">出</text>
<text x="1302.2" y="996" text-anchor="middle" font-family="Liberation Sans" font-size="33" fill="#231815">状</text>
<text x="1339" y="996" text-anchor="middle" font-family="Liberation Sans" font-size="33" fill="#231815">态</text>
<text x="1375.8" y="996" text-anchor="middle" font-family="Liberation Sans" font-size="33" fill="#231815">下</text>
<text x="1398" y="996" text-anchor="middle" font-family="Liberation Serif" font-size="33" fill="#231815">:</text>
<text x="1037" y="1031" text-anchor="middle" font-family="Liberation Sans" font-weight="bold" font-size="33" fill="#231815">2</text>
<text x="1063" y="1031" text-anchor="middle" font-family="Liberation Sans" font-size="33" fill="#231815">号</text>
<text x="1098.8" y="1031" text-anchor="middle" font-family="Liberation Sans" font-size="33" fill="#231815">和</text>
<text x="1124.6" y="1031" text-anchor="middle" font-family="Liberation Sans" font-weight="bold" font-size="33" fill="#231815">1</text>
<text x="1152" y="1031" text-anchor="middle" font-family="Liberation Sans" font-size="33" fill="#231815">号</text>
<text x="1188.7" y="1031" text-anchor="middle" font-family="Liberation Sans" font-size="33" fill="#231815">电</text>
<text x="1225.4" y="1031" text-anchor="middle" font-family="Liberation Sans" font-size="33" fill="#231815">磁</text>
<text x="1262.2" y="1031" text-anchor="middle" font-family="Liberation Sans" font-size="33" fill="#231815">阀</text>
<text x="1298.9" y="1031" text-anchor="middle" font-family="Liberation Sans" font-size="33" fill="#231815">同</text>
<text x="1335.6" y="1031" text-anchor="middle" font-family="Liberation Sans" font-size="33" fill="#231815">时</text>
<text x="1372.3" y="1031" text-anchor="middle" font-family="Liberation Sans" font-size="33" fill="#231815">断</text>
<text x="1409" y="1031" text-anchor="middle" font-family="Liberation Sans" font-size="33" fill="#231815">电</text>
<text x="1445.8" y="1031" text-anchor="middle" font-family="Liberation Sans" font-size="33" fill="#231815">气</text>
<text x="1482.5" y="1031" text-anchor="middle" font-family="Liberation Sans" font-size="33" fill="#231815">缸</text>
<text x="1519.2" y="1031" text-anchor="middle" font-family="Liberation Sans" font-size="33" fill="#231815">缩</text>
<text x="1555.9" y="1031" text-anchor="middle" font-family="Liberation Sans" font-size="33" fill="#231815">回</text>
<text x="1592.6" y="1031" text-anchor="middle" font-family="Liberation Sans" font-size="33" fill="#231815">全</text>
<text x="1629.4" y="1031" text-anchor="middle" font-family="Liberation Sans" font-size="33" fill="#231815">部</text>
<text x="1666.1" y="1031" text-anchor="middle" font-family="Liberation Sans" font-size="33" fill="#231815">行</text>
<text x="1702.8" y="1031" text-anchor="middle" font-family="Liberation Sans" font-size="33" fill="#231815">程</text>
<text x="1728.5" y="1031" text-anchor="middle" font-family="Liberation Sans" font-weight="bold" font-size="33" fill="#231815">,</text>
</svg></body></html>
